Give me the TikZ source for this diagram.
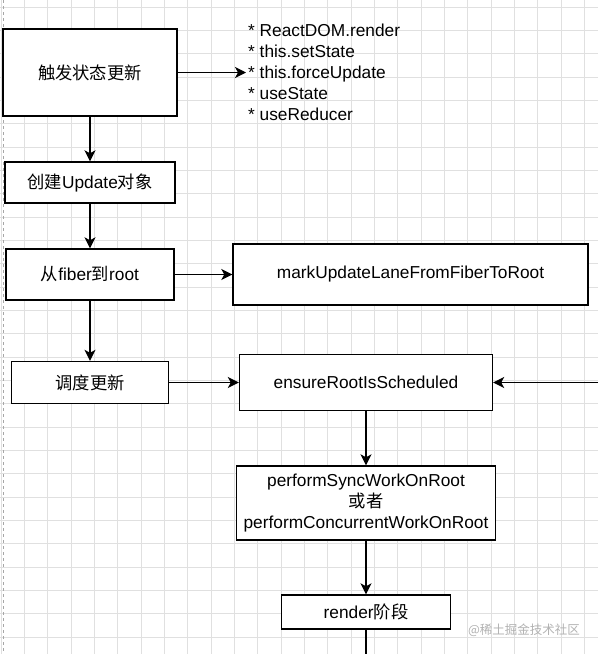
\documentclass[tikz,border=0pt]{standalone}
\usepackage{fontspec}
\setmainfont{Liberation Sans}
\newfontfamily\cjk{Noto Sans CJK SC}
\newcommand{\zh}[1]{{\cjk #1}}
\usetikzlibrary{arrows.meta}
\begin{document}
\begin{tikzpicture}[x=1pt, y=-1pt,
    box/.style={draw, line width=1.4pt, fill=white, inner sep=0pt, font=\fontsize{17.3}{21}\selectfont},
    flow/.style={line width=1.4pt, -{Stealth[length=11pt, width=11pt, inset=3pt]}},
    gridline/.style={draw=black!12, line width=0.7pt}]
    \useasboundingbox (0, 0) rectangle (598, 654);
    \fill[white] (0, 0) rectangle (598, 654);
    % grid of the drawing page
    \foreach \i in {0,...,25} \draw[gridline] ({1+23.33*\i}, 0) -- ({1+23.33*\i}, 654);
    \foreach \j in {0,...,27} \draw[gridline] (0, {7+23.33*\j}) -- (598, {7+23.33*\j});
    \draw[dashed, black!35, line width=0.6pt] (3, 0) -- (3, 654);

    \node[box, minimum width=174pt, minimum height=87pt] (trigger) at (90, 72.5) {\zh{触发状态更新}};
    \node[anchor=west, align=left, inner sep=2pt, font=\fontsize{17.3}{21}\selectfont] (apis) at (246, 72.5)
        {* ReactDOM.render\\* this.setState\\* this.forceUpdate\\* useState\\* useReducer};
    \node[box, minimum width=170pt, minimum height=41pt] (create) at (90, 182.5) {\zh{创建}Update\zh{对象}};
    \node[box, minimum width=168pt, minimum height=51pt] (fiber) at (90, 274.5) {\zh{从}fiber\zh{到}root};
    \node[box, minimum width=355pt, minimum height=61pt] (mark) at (410.5, 274.5) {markUpdateLaneFromFiberToRoot};
    \node[box, minimum width=157pt, minimum height=42pt] (schedule) at (90, 382.5) {\zh{调度更新}};
    \node[box, minimum width=253pt, minimum height=56pt] (ensure) at (366, 382.5) {ensureRootIsScheduled};
    \node[box, minimum width=259pt, minimum height=74pt, align=center] (perform) at (366, 503)
        {performSyncWorkOnRoot\\\zh{或者}\\performConcurrentWorkOnRoot};
    \node[box, minimum width=169pt, minimum height=34pt] (render) at (366, 612) {render\zh{阶段}};
    \node[text=black!30, font=\cjk\fontsize{12.5}{14}\selectfont] (watermark) at (524, 630) {@稀土掘金技术社区};

    \coordinate (loop) at (598, 382.5);
    \coordinate (next) at (366, 654);
    \draw[flow] (trigger) -- (apis);
    \draw[flow] (trigger) -- (create);
    \draw[flow] (create) -- (fiber);
    \draw[flow] (fiber) -- (mark);
    \draw[flow] (fiber) -- (schedule);
    \draw[flow] (schedule) -- (ensure);
    \draw[flow] (loop) -- (ensure);
    \draw[flow] (ensure) -- (perform);
    \draw[flow] (perform) -- (render);
    \draw[line width=1.4pt] (render) -- (next);
\end{tikzpicture}
\end{document}
